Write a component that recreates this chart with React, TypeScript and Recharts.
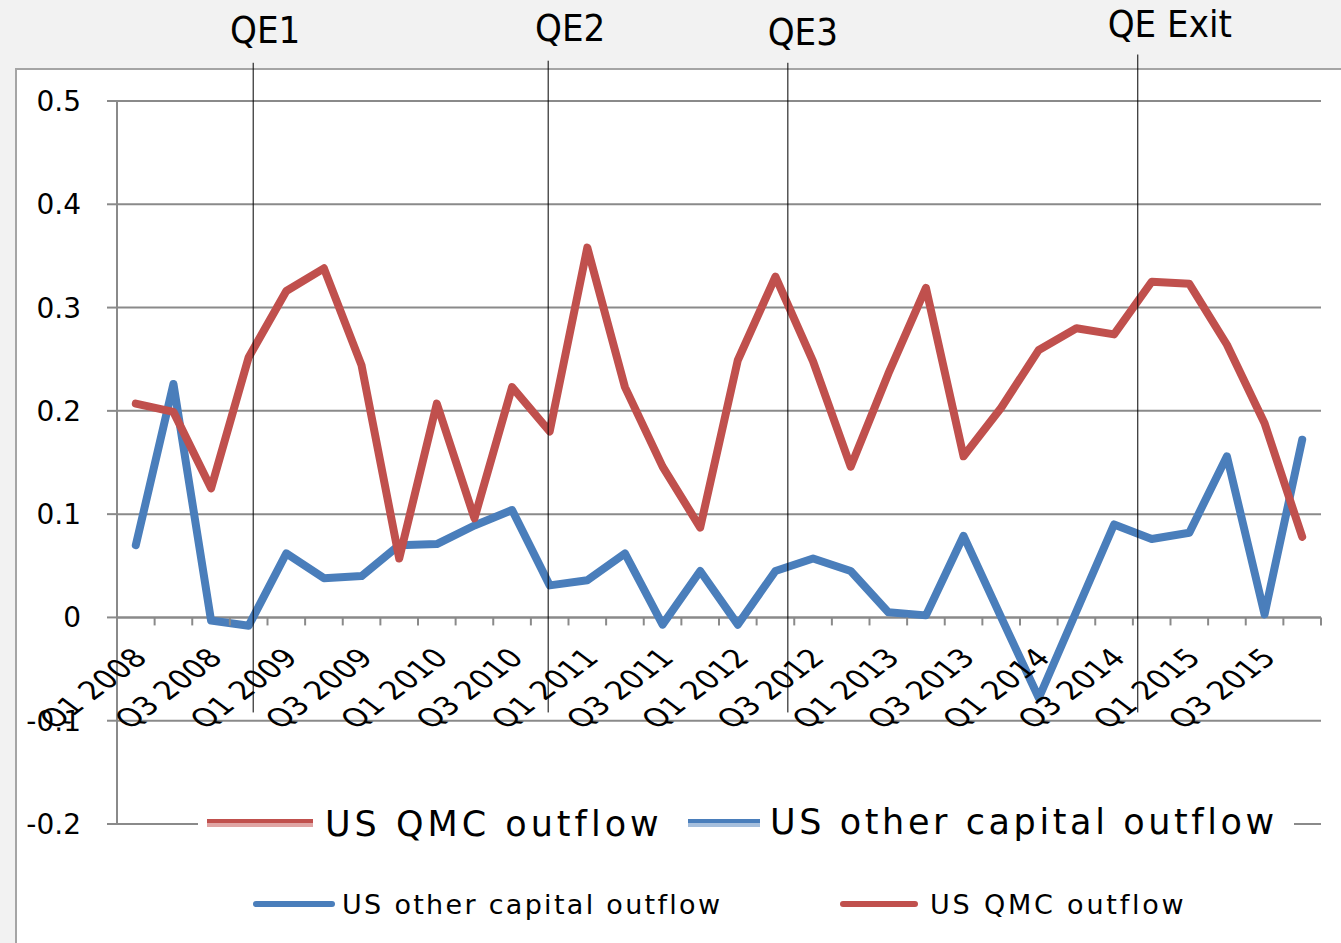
import React from "react";
import {
  LineChart, Line, XAxis, YAxis, CartesianGrid, ReferenceLine,
} from "recharts";

// quarterly categories, Q1 2008 .. Q4 2015
const quarters = [
  "Q1 2008", "Q2 2008", "Q3 2008", "Q4 2008",
  "Q1 2009", "Q2 2009", "Q3 2009", "Q4 2009",
  "Q1 2010", "Q2 2010", "Q3 2010", "Q4 2010",
  "Q1 2011", "Q2 2011", "Q3 2011", "Q4 2011",
  "Q1 2012", "Q2 2012", "Q3 2012", "Q4 2012",
  "Q1 2013", "Q2 2013", "Q3 2013", "Q4 2013",
  "Q1 2014", "Q2 2014", "Q3 2014", "Q4 2014",
  "Q1 2015", "Q2 2015", "Q3 2015", "Q4 2015",
];

const qmcOutflow = [
  0.207, 0.199, 0.125, 0.252, 0.316, 0.338, 0.244, 0.057,
  0.207, 0.096, 0.223, 0.180, 0.358, 0.223, 0.146, 0.087,
  0.249, 0.330, 0.248, 0.146, 0.236, 0.319, 0.156, 0.203,
  0.259, 0.280, 0.274, 0.325, 0.323, 0.264, 0.188, 0.078,
];

const otherOutflow = [
  0.070, 0.226, -0.003, -0.008, 0.062, 0.038, 0.040, 0.070,
  0.071, 0.089, 0.104, 0.031, 0.036, 0.062, -0.007, 0.045,
  -0.007, 0.045, 0.057, 0.045, 0.005, 0.002, 0.079, 0.000,
  -0.078, 0.006, 0.090, 0.076, 0.082, 0.156, 0.003, 0.172,
];

const yTicks = [-0.2, -0.1, 0, 0.1, 0.2, 0.3, 0.4, 0.5];

// QE events, placed in quarter units from the start of Q1 2008
const qeEvents = [
  { label: "QE1", at: 3.62 },
  { label: "QE2", at: 11.46 },
  { label: "QE3", at: 17.83 },
  { label: "QE Exit", at: 27.13 },
];

// hand placed annotation text, relative to the top of each QE line
const qeLabelShift: Record<string, { dx: number; dy: number; top: number }> = {
  QE1: { dx: 12, dy: -20, top: 0.537 },
  QE2: { dx: 22, dy: -20, top: 0.539 },
  QE3: { dx: 15, dy: -18, top: 0.537 },
  "QE Exit": { dx: 32, dy: -18, top: 0.545 },
};

const RED = "#C0504D";
const BLUE = "#4A7EBB";
const GRID = "#8a8a8a";

const W = 1341;
const H = 943;
const PLOT_L = 117;
const PLOT_R = 1321;
const PLOT_T = 101;
const PLOT_B = 824;
const Y_MIN = -0.2;
const Y_MAX = 0.5;
const ZERO_Y = PLOT_T + ((Y_MAX - 0) / (Y_MAX - Y_MIN)) * (PLOT_B - PLOT_T);
const HALF_BAND = (PLOT_R - PLOT_L) / quarters.length / 2;

const data = quarters.map((q, i) => ({
  x: i + 0.5,
  q,
  qmc: qmcOutflow[i],
  other: otherOutflow[i],
}));

const boundaries = Array.from({ length: quarters.length + 1 }, (_, i) => i);

// the category axis crosses at y = 0, so ticks and labels are drawn there
const QuarterTick = (props: any) => {
  const { x, payload } = props;
  const b = Number(payload?.value);
  const showLabel = b % 2 === 0 && b < quarters.length;
  return (
    <g>
      <line x1={x} x2={x} y1={ZERO_Y} y2={ZERO_Y + 8} stroke={GRID} strokeWidth={2} />
      {showLabel && (
        <text
          transform={`translate(${x + HALF_BAND + 13},${ZERO_Y + 42}) scale(1.33,1) rotate(-45)`}
          textAnchor="end"
          fontSize={26}
          fill="#000"
          fontFamily="'DejaVu Sans Condensed', 'DejaVu Sans'"
          style={{ fontStretch: "condensed" }}
        >
          {quarters[b]}
        </text>
      )}
    </g>
  );
};

const QeLabel = (props: any) => {
  const { viewBox, value } = props;
  const s = qeLabelShift[value] ?? { dx: 16, dy: -20 };
  return (
    <text
      x={viewBox.x + s.dx}
      y={viewBox.y + s.dy}
      textAnchor="middle"
      fontSize={38}
      fill="#000"
      fontFamily="'Liberation Sans Narrow', 'DejaVu Sans Condensed', sans-serif"
    >
      {value}
    </text>
  );
};

const LegendSample: React.FC<{ color: string; light: string; width: number; left: number; top: number }> = ({
  color, light, width, left, top,
}) => (
  <div style={{ position: "absolute", left, top, width }}>
    <div style={{ height: 4, background: color }} />
    <div style={{ height: 4, background: light }} />
  </div>
);

const App: React.FC = () => {
  return (
    <div
      style={{
        position: "absolute", left: 0, top: 0, width: W, height: H,
        overflow: "hidden", background: "#f2f2f2", fontFamily: "DejaVu Sans",
      }}
    >
      <div
        style={{
          position: "absolute", left: 15, top: 68, width: 1400, height: 1000,
          background: "#fff", border: "2px solid #a5a5a5",
        }}
      />
      <div style={{ position: "absolute", left: 0, top: 0 }}>
        <LineChart
          width={W}
          height={H}
          data={data}
          margin={{ top: PLOT_T, right: W - PLOT_R, bottom: H - PLOT_B - 20, left: 0 }}
        >
          <CartesianGrid horizontal vertical={false} stroke={GRID} strokeWidth={2} />
          <XAxis
            dataKey="x"
            type="number"
            domain={[0, quarters.length]}
            ticks={boundaries}
            interval={0}
            height={20}
            axisLine={false}
            tickLine={false}
            tick={QuarterTick}
          />
          <YAxis
            type="number"
            domain={[Y_MIN, Y_MAX]}
            ticks={yTicks}
            interval={0}
            width={PLOT_L}
            axisLine={{ stroke: GRID, strokeWidth: 2 }}
            tickLine={{ stroke: GRID, strokeWidth: 2 }}
            tickSize={10}
            tickMargin={26}
            tick={{ fontSize: 28, fill: "#000", fontFamily: "DejaVu Sans" }}
          />
          <ReferenceLine y={0} stroke={GRID} strokeWidth={2} />
          <Line
            dataKey="other"
            name="US other capital outflow"
            stroke={BLUE}
            strokeWidth={8}
            dot={false}
            strokeLinejoin="round"
            strokeLinecap="round"
            isAnimationActive={false}
          />
          <Line
            dataKey="qmc"
            name="US QMC outflow"
            stroke={RED}
            strokeWidth={8}
            dot={false}
            strokeLinejoin="round"
            strokeLinecap="round"
            isAnimationActive={false}
          />
          {qeEvents.map((e) => (
            <ReferenceLine
              key={e.label}
              segment={[
                { x: e.at, y: qeLabelShift[e.label]?.top ?? 0.537 },
                { x: e.at, y: -0.092 },
              ]}
              stroke="#000"
              strokeWidth={1}
              ifOverflow="visible"
              label={{ value: e.label, content: <QeLabel /> }}
            />
          ))}
        </LineChart>
      </div>

      {/* inner legend box sitting on the -0.2 gridline */}
      <div
        style={{
          position: "absolute", left: 198, top: 803, width: 1096, height: 42,
          background: "#fff",
        }}
      >
        <LegendSample color={RED} light="#e0a5a4" width={106} left={9} top={16} />
        <div
          style={{
            position: "absolute", left: 127, top: 0, fontSize: 35, lineHeight: "42px",
            letterSpacing: 4, color: "#000", whiteSpace: "nowrap",
          }}
        >
          US QMC outflow
        </div>
        <LegendSample color={BLUE} light="#a6bfdd" width={72} left={490} top={16} />
        <div
          style={{
            position: "absolute", left: 572, top: -2, fontSize: 35, lineHeight: "42px",
            letterSpacing: 3.6, color: "#000", whiteSpace: "nowrap",
          }}
        >
          US other capital outflow
        </div>
      </div>

      {/* bottom legend */}
      <div style={{ position: "absolute", left: 253, top: 901, width: 82, height: 6, borderRadius: 3, background: BLUE }} />
      <div
        style={{
          position: "absolute", left: 342, top: 887, fontSize: 27, lineHeight: "36px",
          letterSpacing: 2.3, color: "#000", whiteSpace: "nowrap",
        }}
      >
        US other capital outflow
      </div>
      <div style={{ position: "absolute", left: 840, top: 901, width: 78, height: 6, borderRadius: 3, background: RED }} />
      <div
        style={{
          position: "absolute", left: 930, top: 887, fontSize: 27, lineHeight: "36px",
          letterSpacing: 2.8, color: "#000", whiteSpace: "nowrap",
        }}
      >
        US QMC outflow
      </div>
    </div>
  );
};

export default App;
